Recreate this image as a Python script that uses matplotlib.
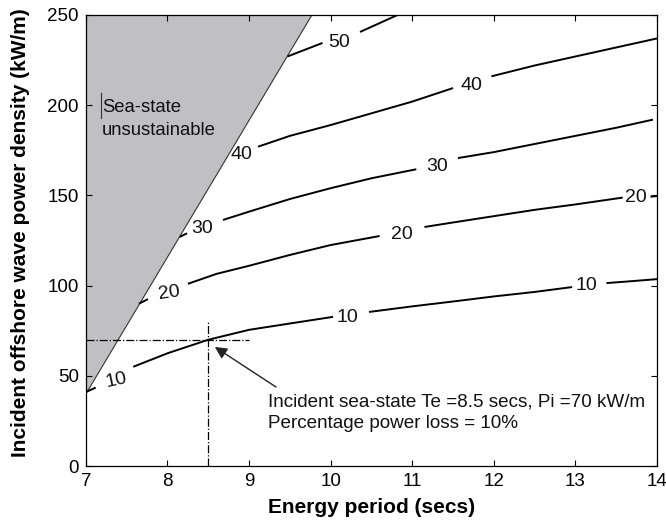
import numpy as np
import matplotlib
matplotlib.use("Agg")
import matplotlib.pyplot as plt

plt.rcParams['font.family'] = ['Liberation Sans', 'DejaVu Sans']

# Boundary of the unsustainable region (Te, Pi)
bound_te = [7.0, 9.77]
bound_pi = [40, 250]

# Contour lines of percentage power loss, as segments broken at the labels
c10_segs = [
    ([7.0, 7.12], [41, 43.5]),
    ([7.58, 8.0, 8.5, 9.0, 9.5, 10.03], [55, 62.5, 70, 75.5, 79, 82.7]),
    ([10.47, 11.0, 11.5, 12.0, 12.5, 12.96], [85.4, 88.5, 91.2, 94, 96.5, 99.2]),
    ([13.38, 13.7, 14.0], [101.4, 102.5, 103.6]),
]
c20_segs = [
    ([7.65, 7.76], [90, 92.5]),
    ([8.25, 8.6, 9.0, 9.5, 10.0, 10.6], [101, 106.5, 111, 117, 122.5, 127.5]),
    ([11.15, 11.5, 12.0, 12.5, 13.0, 13.58], [132.5, 135, 138.5, 142, 145, 148.8]),
    ([13.92, 14.0], [149.3, 149.6]),
]
c30_segs = [
    ([8.15, 8.24], [127, 129]),
    ([8.68, 9.0, 9.5, 10.0, 10.5, 11.05], [136.4, 141, 148, 154, 159.5, 164.5]),
    ([11.56, 12.0, 12.5, 13.0, 13.5, 13.95], [170.7, 174, 178.5, 183, 187.5, 192]),
]
c40_segs = [
    ([9.11, 9.5, 10.0, 10.5, 11.0, 11.5], [177, 183, 189, 195.5, 202, 209.5]),
    ([11.97, 12.5, 13.0, 13.5, 14.0], [216, 222, 227, 232, 237]),
]
c50_segs = [
    ([9.47, 9.9], [227, 234.5]),
    ([10.36, 10.82], [240.6, 250]),
]

# Contour labels: text, Te, Pi, rotation
lab_text = ['10', '10', '10', '20', '20', '20', '30', '30', '40', '40', '50']
lab_te = [7.37, 10.21, 13.14, 8.02, 10.87, 13.74, 8.43, 11.3, 8.91, 11.72, 10.1]
lab_pi = [47.7, 82.5, 100.3, 95.9, 128.6, 148.6, 131.4, 166.3, 172.4, 211, 235]
lab_rot = [12, 0, 0, 8, 0, 0, 0, 0, 0, 0, 0]

# Example sea-state
te_pt = 8.5
pi_pt = 70

fig = plt.figure(figsize=(6.66, 5.26), dpi=100)
ax = fig.add_axes([0.129, 0.114, 0.8575, 0.8575])

# grey unsustainable region
ax.fill([bound_te[0], bound_te[1], 7.0], [bound_pi[0], bound_pi[1], 250],
        color='#c0c0c3', lw=0)
ax.plot(bound_te, bound_pi, color='#333333', lw=0.8)

for segs in [c10_segs, c20_segs, c30_segs, c40_segs, c50_segs]:
    for xs, ys in segs:
        ax.plot(xs, ys, color='black', lw=1.4, solid_capstyle='butt')

for t, x, y, r in zip(lab_text, lab_te, lab_pi, lab_rot):
    ax.text(x, y, t, ha='center', va='center', fontsize=14, rotation=r,
            color='#111111')

# cross-hair on the example point
ax.plot([7, 9], [pi_pt, pi_pt], color='black', lw=0.9, ls='-.')
ax.plot([te_pt, te_pt], [0, 80], color='black', lw=0.9, ls='-.')

ax.annotate('', xy=(8.58, 66), xytext=(9.33, 43.8),
            arrowprops=dict(arrowstyle='-|>', color='#222222', lw=1.0,
                            mutation_scale=18, shrinkA=0, shrinkB=0))
ax.text(9.23, 35.5, 'Incident sea-state Te =8.5 secs, Pi =70 kW/m',
        ha='left', va='center', fontsize=13.6, color='#111111')
ax.text(9.23, 23.8, 'Percentage power loss = 10%',
        ha='left', va='center', fontsize=13.6, color='#111111')

ax.text(7.2, 199, 'Sea-state', ha='left', va='center', fontsize=13.3,
        color='#111111')
ax.text(7.2, 186, 'unsustainable', ha='left', va='center', fontsize=13.3,
        color='#111111')
ax.plot([7.18, 7.18], [193, 206.5], color='#333333', lw=0.8)

ax.set_xlim(7, 14)
ax.set_ylim(0, 250)
ax.set_xticks(np.arange(7, 15, 1))
ax.set_yticks(np.arange(0, 251, 50))
ax.tick_params(direction='in', top=True, right=True, length=4, width=0.8,
               labelsize=13.5, pad=5)
for s in ax.spines.values():
    s.set_linewidth(0.9)

ax.set_xlabel('Energy period (secs)', fontsize=15, fontweight='bold')
ax.set_ylabel('Incident offshore wave power density (kW/m)', fontsize=15,
              fontweight='bold')
ax.xaxis.set_label_coords(0.5, -0.07)
ax.yaxis.set_label_coords(-0.098, 0.517)

fig.savefig('out.png', dpi=100)
